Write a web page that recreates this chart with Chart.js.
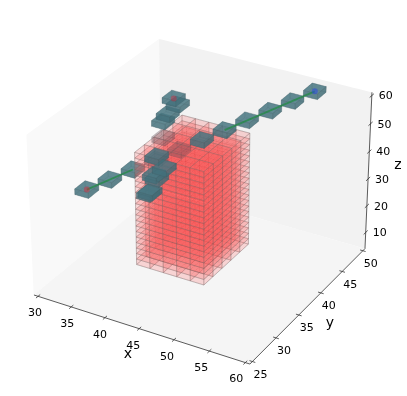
<!DOCTYPE html>
<html>
<head>
<meta charset="utf-8">
<script src="https://cdn.jsdelivr.net/npm/chart.js@4"></script>
<style>
  html, body { margin: 0; padding: 0; background: #fff; }
  canvas { display: block; filter: blur(0.4px); }
</style>
</head>
<body>
<canvas id="chart" width="407" height="396"></canvas>
<script>
// tick labels
const xTicks = [30, 35, 40, 45, 50, 55, 60];
const yTicks = [25, 30, 35, 40, 45, 50];
const zTicks = [10, 20, 30, 40, 50, 60];

// box of small red cells (lower corners)
const redX = [40.65, 42.6, 44.55, 46.5, 48.45];
const redY = [30, 31.9, 33.8, 35.7, 37.6];
const redZ = [15, 17, 19, 21, 23, 25, 27, 29, 31, 33, 35, 37, 39, 41, 43, 45, 47, 49, 51, 53];

// dark cells that sit in front of the box (centres)
const frontX = [53.5, 51.6, 49.7, 47.7, 45.8, 43.9, 40.3, 40.6, 41.6, 41.2, 42.7, 41.6, 37.5, 38.2, 39.7, 39.1];
const frontY = [49, 47, 45, 43, 41, 39, 33, 33, 33, 33, 33, 33, 40, 40, 40, 40];
const frontZ = [59, 57, 55, 53, 51, 49, 35.9, 36.5, 42.2, 43.1, 46.6, 49.9, 50, 53, 57.4, 59.2];

// dark cells that the box covers, seen faintly through it (centres)
const fadedX = [42, 40.1, 37.5];
const fadedY = [37, 35, 40];
const fadedZ = [47, 45, 44.2];

// dark cells left of the box, under its outer faces (centres)
const behindX = [38.1, 36.2, 34.3];
const behindY = [33, 31, 29];
const behindZ = [43, 41, 39];

// visible parts of the centre line
const lineRightX = [53.5, 45.8];
const lineRightY = [49, 41];
const lineRightZ = [59, 51];
const lineLeftX = [38.1, 34.3];
const lineLeftY = [33, 29];
const lineLeftZ = [43, 39];

// end points of the centre lines
const endX = [34.3, 53.5, 39.1];
const endY = [29, 49, 40];
const endZ = [39, 59, 59.2];
const endColors = ['rgba(235,20,40,0.4)', 'rgba(40,70,230,0.5)', 'rgba(235,20,40,0.35)'];

// axis limits with the usual 1/48 padding
const xLim = [29.375, 60.625];
const yLim = [24.48, 50.52];
const zLim = [3.85, 61.15];
const cellX = 1.95, cellY = 1.9, cellZ = 2, darkCell = 2;

// view: elevation 30, azimuth -60, distance 10, box 4:4:3
const boxX = 1.1429, boxY = 1.1429, boxZ = 0.8572;
const viewDist = 10;
const scaleX = 2165, scaleY = 2130, originX = 202.4, originY = 194;

function project(x, y, z) {
    const X = ((x - xLim[0]) / (xLim[1] - xLim[0]) - 0.5) * boxX;
    const Y = ((y - yLim[0]) / (yLim[1] - yLim[0]) - 0.5) * boxY;
    const Z = ((z - zLim[0]) / (zLim[1] - zLim[0]) - 0.5) * boxZ;
    const xv = 0.866025 * X + 0.5 * Y;
    const yv = -0.25 * X + 0.433013 * Y + 0.866025 * Z;
    const d = viewDist - (0.433013 * X - 0.75 * Y + 0.5 * Z);
    return { x: xv / d, y: yv / d, depth: d };
}

function polygon(corners, fill, border, borderWidth) {
    const pts = corners.map(c => project(c[0], c[1], c[2]));
    pts.push(pts[0]);
    return {
        data: pts,
        showLine: true,
        fill: fill ? 'shape' : false,
        backgroundColor: fill,
        borderColor: border,
        borderWidth: borderWidth,
        pointRadius: 0,
        // zero tension makes chart.js merge points that share a pixel column
        tension: 0.001
    };
}

function rgba(c, shade, a) {
    return `rgba(${Math.round(c[0] * shade)},${Math.round(c[1] * shade)},${Math.round(c[2] * shade)},${a})`;
}

// six faces of one cell: top, bottom, y low, y high, x low, x high
function cubeFaces(x0, y0, z0, sx, sy, sz, color, alpha, edges, shades) {
    const x1 = x0 + sx, y1 = y0 + sy, z1 = z0 + sz;
    const faces = [
        [[x0, y0, z1], [x1, y0, z1], [x1, y1, z1], [x0, y1, z1]],
        [[x0, y0, z0], [x1, y0, z0], [x1, y1, z0], [x0, y1, z0]],
        [[x0, y0, z0], [x1, y0, z0], [x1, y0, z1], [x0, y0, z1]],
        [[x0, y1, z0], [x1, y1, z0], [x1, y1, z1], [x0, y1, z1]],
        [[x0, y0, z0], [x0, y1, z0], [x0, y1, z1], [x0, y0, z1]],
        [[x1, y0, z0], [x1, y1, z0], [x1, y1, z1], [x1, y0, z1]]
    ];
    return faces.map((c, i) => {
        const depth = c.reduce((sum, p) => sum + project(p[0], p[1], p[2]).depth, 0) / 4;
        return { depth, set: polygon(c, rgba(color, shades[i], alpha), edges[i], 0.8) };
    });
}

function darkCells(xs, ys, zs, color, alpha, edge) {
    let faces = [];
    xs.forEach((x, i) => {
        faces = faces.concat(cubeFaces(x - darkCell / 2, ys[i] - darkCell / 2, zs[i] - darkCell / 2,
            darkCell, darkCell, darkCell, color, alpha, [edge, edge, edge, edge, edge, edge],
            [1, 0.9, 0.95, 0.9, 0.9, 0.9]));
    });
    return faces.sort((a, b) => b.depth - a.depth).map(f => f.set);
}

function redCells() {
    const outer = 'rgba(120,105,105,0.32)', inner = 'rgba(120,105,105,0.02)';
    let faces = [];
    redX.forEach((x, ix) => redY.forEach((y, iy) => redZ.forEach((z, iz) => {
        const edges = [
            iz === redZ.length - 1 ? outer : inner,
            iz === 0 ? outer : inner,
            iy === 0 ? outer : inner,
            iy === redY.length - 1 ? outer : inner,
            ix === 0 ? outer : inner,
            ix === redX.length - 1 ? outer : inner
        ];
        faces = faces.concat(cubeFaces(x, y, z, cellX, cellY, cellZ, [255, 95, 95], 0.12, edges, [1, 1, 1, 1, 1, 1]));
    })));
    return faces.sort((a, b) => b.depth - a.depth).map(f => f.set);
}

function lineSet(p, q, color, width) {
    return {
        data: [project(p[0], p[1], p[2]), project(q[0], q[1], q[2])],
        showLine: true, fill: false, borderColor: color, borderWidth: width, pointRadius: 0
    };
}

const [x0, x1] = xLim, [y0, y1] = yLim, [z0, z1] = zLim;
let drawOrder = [
    polygon([[x0, y0, z0], [x0, y1, z0], [x0, y1, z1], [x0, y0, z1]], 'rgb(249,249,249)', 'rgba(0,0,0,0)', 0),
    polygon([[x0, y1, z0], [x1, y1, z0], [x1, y1, z1], [x0, y1, z1]], 'rgb(242,242,242)', 'rgba(0,0,0,0)', 0),
    polygon([[x0, y0, z0], [x1, y0, z0], [x1, y1, z0], [x0, y1, z0]], 'rgb(245,245,245)', 'rgba(0,0,0,0)', 0),
    lineSet([x0, y0, z0], [x1, y0, z0], '#333', 0.8),
    lineSet([x1, y0, z0], [x1, y1, z0], '#333', 0.8),
    lineSet([x1, y1, z0], [x1, y1, z1], '#333', 0.8)
];
xTicks.forEach(t => drawOrder.push(lineSet([t, y0 + 0.4, z0], [t, y0 - 0.4, z0], '#333', 0.8)));
yTicks.forEach(t => drawOrder.push(lineSet([x1 - 0.4, t, z0], [x1 + 0.4, t, z0], '#333', 0.8)));
zTicks.forEach(t => drawOrder.push(lineSet([x1, y1 - 0.5, t], [x1, y1 + 0.5, t], '#333', 0.8)));

const darkColor = [72, 120, 132], darkEdge = 'rgba(70,90,100,0.22)';
const lineColor = 'rgba(20,140,50,0.6)';
drawOrder = drawOrder.concat(
    darkCells(behindX, behindY, behindZ, darkColor, 0.6, darkEdge),
    redCells(),
    darkCells(fadedX, fadedY, fadedZ, [115, 85, 95], 0.22, 'rgba(110,90,100,0.12)'),
    darkCells(frontX, frontY, frontZ, darkColor, 0.6, darkEdge)
);
drawOrder.push(lineSet([lineRightX[0], lineRightY[0], lineRightZ[0]], [lineRightX[1], lineRightY[1], lineRightZ[1]], lineColor, 1.8));
drawOrder.push(lineSet([lineLeftX[0], lineLeftY[0], lineLeftZ[0]], [lineLeftX[1], lineLeftY[1], lineLeftZ[1]], lineColor, 1.8));
drawOrder.push({
    data: endX.map((x, i) => project(x, endY[i], endZ[i])),
    showLine: false,
    pointRadius: 3,
    pointBorderWidth: 0,
    pointBackgroundColor: endColors
});

// text is placed from the axis positions through the chart's scales
const tickText = {
    id: 'tickText',
    afterDraw(chart) {
        const ctx = chart.ctx;
        const px = p => [chart.scales.x.getPixelForValue(p.x), chart.scales.y.getPixelForValue(p.y)];
        ctx.save();
        ctx.fillStyle = '#000';
        ctx.textAlign = 'center';
        ctx.textBaseline = 'middle';
        ctx.font = '11px "DejaVu Sans"';
        xTicks.forEach((t, i) => {
            const [a, b] = px(project(t, y0, z0));
            ctx.fillText(String(t), a - 3 - i, b + 17);
        });
        yTicks.forEach(t => {
            const [a, b] = px(project(x1, t, z0));
            ctx.fillText(String(t), a + 8, b + 13.5);
        });
        zTicks.forEach(t => {
            const [a, b] = px(project(x1, y1, t));
            ctx.fillText(String(t), a + 14, b + 1);
        });
        ctx.font = '14px "DejaVu Sans"';
        ctx.fillText('x', 128, 354);
        ctx.fillText('y', 330, 323);
        ctx.fillText('z', 398, 165);
        ctx.restore();
    }
};

new Chart(document.getElementById('chart').getContext('2d'), {
    type: 'scatter',
    data: { datasets: drawOrder.reverse() },
    options: {
        responsive: false,
        animation: false,
        events: [],
        layout: { padding: 0, autoPadding: false },
        plugins: { legend: { display: false }, tooltip: { enabled: false }, title: { display: false } },
        scales: {
            x: { type: 'linear', display: false, min: -originX / scaleX, max: (407 - originX) / scaleX },
            y: { type: 'linear', display: false, min: (originY - 396) / scaleY, max: originY / scaleY }
        }
    },
    plugins: [tickText]
});
</script>
</body>
</html>
